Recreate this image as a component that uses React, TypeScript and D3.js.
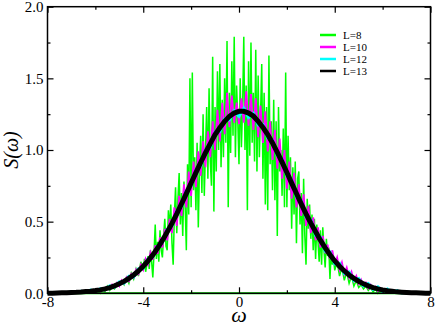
import * as d3 from "d3";
import { useEffect, useRef } from "react";

// sampling grids (start, step) and values
const l8LeftStart = -6;
const l8LeftValues = [
  0.0, 0.02, 0.0, 0.03, 0.01, 0.05, 0.02, 0.04, 0.03, 0.07,
  0.05, 0.09, 0.06, 0.11, 0.07, 0.14, 0.1, 0.17, 0.12, 0.22,
];
const l8CenterStart = -4;
const l8CenterValues = [
  0.16, 0.24, 0.15, 0.2, 0.26, 0.17, 0.3, 0.22, 0.11, 0.28,
  0.48, 0.24, 0.36, 0.22, 0.44, 0.3, 0.25, 0.4, 0.52, 0.33,
  0.3, 0.58, 0.45, 0.62, 0.35, 0.2, 0.55, 0.74, 0.42, 0.66,
  0.84, 0.48, 0.7, 0.4, 0.78, 0.62, 0.3, 0.9, 0.55, 1.5,
  0.6, 1.54, 0.72, 0.95, 0.58, 1.05, 0.46, 0.88, 1.1, 0.7,
  1.25, 0.68, 1.0, 1.3, 0.8, 1.43, 0.92, 0.75, 1.65, 0.57,
  1.3, 0.85, 1.55, 1.0, 1.6, 0.88, 1.35, 0.95, 1.5, 1.05,
  1.76, 0.6, 1.4, 0.98, 1.62, 1.1, 1.79, 0.95, 1.45, 1.2,
  0.9, 1.5, 1.02, 1.3, 1.79, 1.0, 1.45, 0.58, 1.62, 0.96,
  1.75, 1.05, 1.4, 0.92, 1.7, 0.85, 1.52, 0.95, 1.25, 1.6,
  0.8, 1.4, 0.62, 1.3, 0.58, 1.66, 0.9, 1.2, 0.72, 1.35,
  0.65, 1.2, 0.4, 1.3, 0.85, 1.0, 0.68, 1.15, 0.6, 1.54,
  0.6, 1.1, 0.72, 0.95, 0.45, 0.88, 0.55, 0.92, 0.35, 0.8,
  0.85, 0.48, 0.7, 0.28, 0.8, 0.4, 0.2, 0.66, 0.45, 0.62,
  0.38, 0.55, 0.3, 0.52, 0.24, 0.48, 0.36, 0.22, 0.44, 0.2,
  0.46, 0.3, 0.18, 0.38, 0.26, 0.32, 0.1, 0.28, 0.2, 0.24,
  0.16,
];
const l8RightStart = 4.1;
const l8RightValues = [
  0.22, 0.12, 0.18, 0.09, 0.15, 0.07, 0.12, 0.05, 0.09, 0.04,
  0.06, 0.03, 0.05, 0.02, 0.04, 0.01, 0.03, 0.0, 0.02, 0.0,
];
const l8Baseline = [[-8, 0], [8, 0]];

const l10Start = -6;
const l10Step = 0.1;
const l10Values = [
  0.01, 0.03, 0.012, 0.035, 0.02, 0.045, 0.028, 0.06, 0.04, 0.072,
  0.05, 0.09, 0.068, 0.11, 0.085, 0.135, 0.11, 0.165, 0.135, 0.2,
  0.165, 0.24, 0.2, 0.285, 0.235, 0.335, 0.275, 0.39, 0.32, 0.45,
  0.37, 0.52, 0.42, 0.6, 0.47, 0.68, 0.54, 0.76, 0.6, 0.85,
  0.68, 0.92, 0.74, 0.99, 0.82, 1.06, 0.88, 1.13, 0.95, 1.2,
  1.0, 1.28, 1.06, 1.33, 1.11, 1.4, 1.16, 1.38, 1.19, 1.33,
  1.18, 1.36, 1.19, 1.41, 1.17, 1.39, 1.14, 1.36, 1.09, 1.31,
  1.05, 1.27, 0.99, 1.2, 0.93, 1.14, 0.87, 1.08, 0.8, 1.0,
  0.73, 0.92, 0.66, 0.84, 0.6, 0.76, 0.54, 0.69, 0.47, 0.61,
  0.42, 0.53, 0.37, 0.46, 0.32, 0.4, 0.28, 0.34, 0.24, 0.3,
  0.2, 0.25, 0.165, 0.215, 0.135, 0.18, 0.11, 0.15, 0.085, 0.12,
  0.065, 0.095, 0.05, 0.075, 0.035, 0.06, 0.025, 0.045, 0.015, 0.035,
  0.01,
];

const l12Start = -8;
const l12Step = 0.2;
const l12Values = [
  0.0, 0.004, 0.001, 0.006, 0.003, 0.01, 0.005, 0.014, 0.009, 0.022,
  0.014, 0.032, 0.025, 0.052, 0.042, 0.08, 0.072, 0.118, 0.115, 0.17,
  0.175, 0.24, 0.255, 0.33, 0.355, 0.445, 0.47, 0.572, 0.605, 0.715,
  0.75, 0.862, 0.89, 1.0, 1.02, 1.125, 1.13, 1.215, 1.21, 1.272,
  1.235, 1.29, 1.228, 1.255, 1.175, 1.178, 1.085, 1.068, 0.962, 0.935,
  0.82, 0.79, 0.672, 0.645, 0.532, 0.512, 0.405, 0.392, 0.295, 0.29,
  0.205, 0.21, 0.138, 0.148, 0.088, 0.102, 0.052, 0.068, 0.028, 0.045,
  0.012, 0.03, 0.006, 0.018, 0.002, 0.01, 0.0, 0.005, 0.0, 0.002,
  0.0,
];

const l13Start = -8;
const l13Step = 0.2;
const l13Values = [
  0.0, 0.001, 0.002, 0.003, 0.004, 0.006, 0.007, 0.009, 0.012, 0.015,
  0.019, 0.024, 0.031, 0.04, 0.052, 0.066, 0.083, 0.104, 0.128, 0.156,
  0.189, 0.226, 0.268, 0.316, 0.369, 0.427, 0.488, 0.554, 0.625, 0.696,
  0.77, 0.842, 0.913, 0.981, 1.044, 1.107, 1.155, 1.2, 1.235, 1.258,
  1.27, 1.27, 1.258, 1.237, 1.2, 1.158, 1.107, 1.049, 0.984, 0.915,
  0.843, 0.769, 0.696, 0.624, 0.555, 0.49, 0.429, 0.371, 0.317, 0.269,
  0.226, 0.189, 0.156, 0.128, 0.104, 0.084, 0.066, 0.052, 0.04, 0.031,
  0.024, 0.018, 0.014, 0.01, 0.008, 0.006, 0.004, 0.003, 0.002, 0.001,
  0.0,
];

const xTicks = [-8, -4, 0, 4, 8];
const xMinor = [-6, -2, 2, 6];
const yTicks = [0, 0.5, 1, 1.5, 2];
const yMinor = [0.25, 0.75, 1.25, 1.75];
const legendLabels = ["L=8", "L=10", "L=12", "L=13"];
const legendColors = ["#00ff00", "#ff00ff", "#00ffff", "#000000"];

const SERIF = "Liberation Serif, Times New Roman, serif";

function toPoints(start, step, values) {
  return values.map((v, i) => [start + i * step, v]);
}

export default function App() {
  const axisRef = useRef(null);

  const W = 436;
  const H = 327;
  const margin = { top: 6.7, right: 5.5, bottom: 33.7, left: 47.5 };
  const width = W - margin.left - margin.right;
  const height = H - margin.top - margin.bottom;

  const x = d3.scaleLinear().domain([-8, 8]).range([0, width]);
  const y = d3.scaleLinear().domain([0, 2]).range([height, 0]);
  const line = d3.line().x(d => x(d[0])).y(d => y(d[1]));

  const l8Points = [
    ...toPoints(l8LeftStart, 0.1, l8LeftValues),
    ...toPoints(l8CenterStart, 0.05, l8CenterValues),
    ...toPoints(l8RightStart, 0.1, l8RightValues),
  ];

  const series = [
    { key: "L=8", color: legendColors[0], w: 1.5, pts: l8Points },
    { key: "L=10", color: legendColors[1], w: 1.8, pts: toPoints(l10Start, l10Step, l10Values) },
    { key: "L=12", color: legendColors[2], w: 3, pts: toPoints(l12Start, l12Step, l12Values) },
    { key: "L=13", color: legendColors[3], w: 5, pts: toPoints(l13Start, l13Step, l13Values) },
  ];

  useEffect(() => {
    const g = d3.select(axisRef.current);
    g.selectAll("*").remove();
    const fmtX = d => String(d);
    const fmtY = d => d.toFixed(1);

    const bottom = g.append("g").attr("transform", `translate(0,${height})`)
      .call(d3.axisBottom(x).tickValues(xTicks).tickSize(-6).tickPadding(3).tickFormat(fmtX));
    bottom.append("g").call(d3.axisBottom(x).tickValues(xMinor).tickSize(-3).tickFormat(() => ""));
    const left = g.append("g")
      .call(d3.axisLeft(y).tickValues(yTicks).tickSize(-6).tickPadding(4).tickFormat(fmtY));
    left.append("g").call(d3.axisLeft(y).tickValues(yMinor).tickSize(-3).tickFormat(() => ""));
    const top = g.append("g")
      .call(d3.axisTop(x).tickValues(xTicks).tickSize(-6).tickFormat(() => ""));
    top.append("g").call(d3.axisTop(x).tickValues(xMinor).tickSize(-3).tickFormat(() => ""));
    const right = g.append("g").attr("transform", `translate(${width},0)`)
      .call(d3.axisRight(y).tickValues(yTicks).tickSize(-6).tickFormat(() => ""));
    right.append("g").call(d3.axisRight(y).tickValues(yMinor).tickSize(-3).tickFormat(() => ""));

    g.selectAll(".domain").remove();
    g.selectAll("g").attr("font-family", SERIF);
    g.selectAll(".tick line").attr("stroke", "#000").attr("stroke-width", 1.2);
    g.selectAll(".tick text")
      .attr("fill", "#000")
      .style("font-family", SERIF)
      .style("font-size", "15px");
  }, [x, y, width, height]);

  return (
    <svg width={W} height={H} style={{ position: "fixed", left: 0, top: 0, background: "#fff" }}>
      <g transform={`translate(${margin.left},${margin.top})`}>
        <path d={line(l8Baseline)} fill="none" stroke={legendColors[0]} strokeWidth={2} />
        {series.map(s => (
          <path key={s.key} d={line(s.pts)} fill="none" stroke={s.color} strokeWidth={s.w} strokeLinejoin="miter" />
        ))}
        <rect x={0} y={0} width={width} height={height} fill="none" stroke="#000" strokeWidth={1.5} />
        <g ref={axisRef} />
        {legendLabels.map((lab, i) => (
          <g key={lab} transform={`translate(${320 - margin.left},${35 - margin.top + i * 12})`}>
            <line x1={0} x2={16} y1={0} y2={0} stroke={legendColors[i]} strokeWidth={2.5} />
            <text x={23} y={3.5} style={{ fontFamily: SERIF, fontSize: "11px" }}>{lab}</text>
          </g>
        ))}
      </g>
      <text x={239} y={322} textAnchor="middle" style={{ fontFamily: SERIF, fontStyle: "italic", fontSize: "22px" }}>ω</text>
      <text transform="translate(18,150) rotate(-90)" textAnchor="middle" style={{ fontFamily: SERIF, fontStyle: "italic", fontSize: "20px" }}>S(ω)</text>
    </svg>
  );
}
